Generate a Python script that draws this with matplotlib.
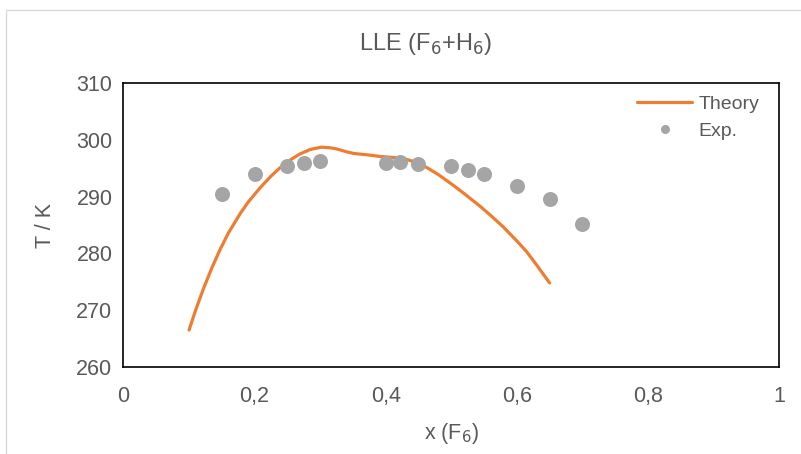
import matplotlib
matplotlib.use("Agg")
import matplotlib.pyplot as plt
from matplotlib.patches import Rectangle

# Theoretical LLE curve
x_theory = [0.100, 0.110, 0.122, 0.135, 0.147, 0.160, 0.178, 0.190, 0.208,
            0.225, 0.239, 0.255, 0.269, 0.285, 0.302, 0.315, 0.325, 0.340,
            0.351, 0.376, 0.389, 0.410, 0.427, 0.445, 0.463, 0.480, 0.503,
            0.520, 0.544, 0.560, 0.579, 0.600, 0.615, 0.630, 0.650]
T_theory = [266.5, 270.0, 273.8, 277.5, 280.6, 283.6, 287.0, 289.0, 291.5,
            293.6, 295.1, 296.5, 297.5, 298.3, 298.7, 298.6, 298.4, 297.9,
            297.6, 297.3, 297.1, 296.9, 296.7, 296.1, 295.1, 293.9, 292.0,
            290.5, 288.3, 286.7, 284.7, 282.2, 280.3, 278.0, 274.8]

# Experimental points
x_exp = [0.150, 0.200, 0.250, 0.275, 0.300, 0.400, 0.422, 0.450,
         0.500, 0.525, 0.550, 0.600, 0.650, 0.700]
T_exp = [290.5, 293.9, 295.3, 295.9, 296.3, 296.0, 296.1, 295.7,
         295.3, 294.7, 293.9, 291.9, 289.5, 285.1]

x_ticks = [0, 0.2, 0.4, 0.6, 0.8, 1.0]
x_tick_labels = ["0", "0,2", "0,4", "0,6", "0,8", "1"]
y_ticks = [260, 270, 280, 290, 300, 310]
y_tick_labels = ["260", "270", "280", "290", "300", "310"]

TEXT = "#595959"
ORANGE = "#ED7D31"
GREY = "#A5A5A5"

plt.rcParams["font.family"] = ["Liberation Sans", "DejaVu Sans"]

W, H = 801, 454
fig = plt.figure(figsize=(W / 100, H / 100), dpi=100)

# chart-area border
fig.patches.append(Rectangle((6 / W, -0.1), 1.2, 1 - 10 / H + 0.1,
                             transform=fig.transFigure, fill=False,
                             edgecolor="#D9D9D9", linewidth=1.0))

ax = fig.add_axes([123.5 / W, 1 - 367 / H, (779 - 123.5) / W, (367 - 83) / H])

ax.plot(x_theory, T_theory, color=ORANGE, linewidth=2.3, solid_capstyle="round",
        solid_joinstyle="round", label="Theory", zorder=2)
ax.plot(x_exp, T_exp, linestyle="none", marker="o", markersize=10.8,
        color=GREY, markeredgewidth=0, label="Exp.", zorder=3)

ax.set_xlim(0, 1)
ax.set_ylim(260, 310)
ax.set_xticks(x_ticks)
ax.set_xticklabels(x_tick_labels)
ax.set_yticks(y_ticks)
ax.set_yticklabels(y_tick_labels)
ax.tick_params(axis="both", length=0, labelsize=15.5, labelcolor=TEXT)
ax.tick_params(axis="x", pad=14)
ax.tick_params(axis="y", pad=8)

for s in ax.spines.values():
    s.set_color("black")
    s.set_linewidth(1.2)

ax.set_xlabel("x (F$_6$)", fontsize=15.5, color=TEXT)
ax.set_ylabel("T / K", fontsize=15.5, color=TEXT)
ax.xaxis.set_label_coords(0.5, -0.19)
ax.yaxis.set_label_coords(-0.103, 0.5)

fig.text(426 / W, 1 - 44 / H, "LLE (F$_6$+H$_6$)", ha="center", va="center",
         fontsize=17, color=TEXT)

leg = ax.legend(loc="upper left", bbox_to_anchor=(0.772, 0.985), frameon=False,
                fontsize=14, handlelength=2.8, handletextpad=0.35,
                labelspacing=0.5, markerscale=0.6, borderaxespad=0)
for t in leg.get_texts():
    t.set_color(TEXT)

fig.savefig("out.png", dpi=100)
